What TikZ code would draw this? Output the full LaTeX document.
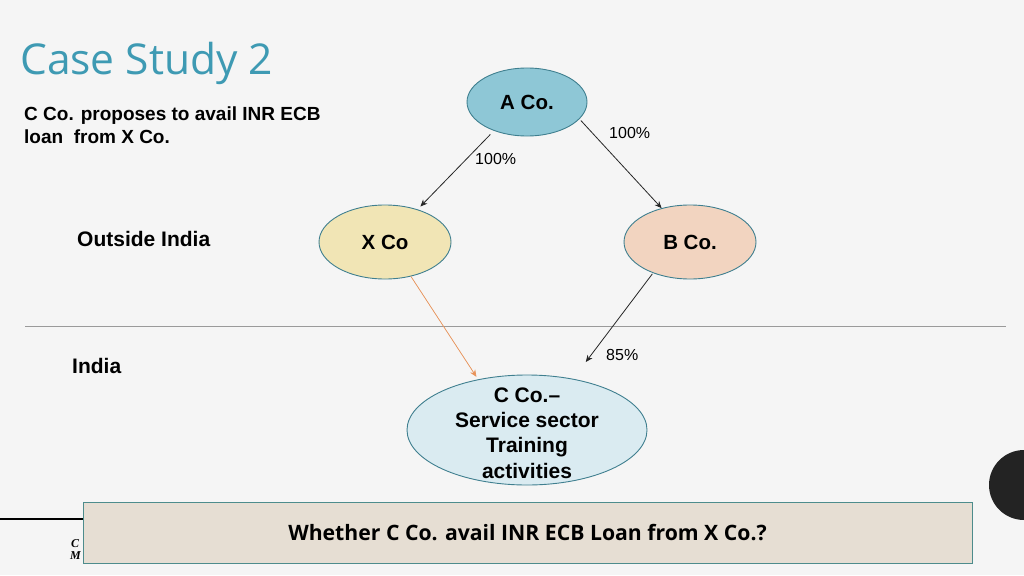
\documentclass[tikz,border=0pt]{standalone}
\usepackage{fontspec}
\setmainfont{Liberation Sans}
\newfontfamily\osans{Open Sans}
\newfontfamily\lserif{Liberation Serif}
\usetikzlibrary{shapes.geometric,arrows.meta}
\definecolor{bgc}{HTML}{F5F5F5}
\definecolor{titlec}{HTML}{3E9AB3}
\definecolor{edgec}{HTML}{3F7F8F}
\definecolor{afill}{HTML}{8EC7D6}
\definecolor{xfill}{HTML}{F1E5B5}
\definecolor{bfill}{HTML}{F2D4C0}
\definecolor{cfill}{HTML}{DAEBF1}
\definecolor{boxfill}{HTML}{E6DED3}
\definecolor{boxedge}{HTML}{4D8C8C}
\definecolor{orangec}{HTML}{E8935A}
\definecolor{linec}{HTML}{9A9A9A}
\definecolor{darkc}{HTML}{232323}
\tikzset{
  co/.style={ellipse, draw=edgec, line width=0.9pt, inner sep=0pt, font=\fontsize{20.5}{24}\selectfont\bfseries},
  own/.style={-{Stealth[length=7pt,width=6pt]}, line width=0.8pt, draw=black!85},
  pct/.style={font=\fontsize{16}{18}\selectfont, inner sep=0pt},
  lbl/.style={font=\fontsize{21}{24}\selectfont\bfseries, inner sep=0pt},
}
\begin{document}
\begin{tikzpicture}[x=1pt,y=-1pt]
\fill[bgc] (0,0) rectangle (1024,575);
\useasboundingbox (0,0) rectangle (1024,575);
% title
\node[anchor=base west, inner sep=0pt, text=titlec, font=\osans\fontsize{42.5}{48}\selectfont] (title) at (20,75) {Case Study 2};
\node[anchor=base west, inner sep=0pt, align=left, font=\fontsize{19}{23}\selectfont\bfseries] (intro) at (24,143) {C Co. proposes to avail INR ECB\\loan\ \ from X Co.};
% separator
\coordinate (sl) at (25,326);
\coordinate (sr) at (1006,326);
\draw[linec, line width=0.8pt] (sl) -- (sr);
\node[lbl, anchor=base west] (out) at (77,246) {Outside India};
\node[lbl, anchor=base west] (ind) at (72,373) {India};
% companies
\node[co, fill=afill, minimum width=120pt, minimum height=68pt] (A) at (527,102) {A Co.};
\node[co, fill=xfill, minimum width=132pt, minimum height=74pt] (X) at (385,242) {X Co};
\node[co, fill=bfill, minimum width=132pt, minimum height=74pt] (B) at (690,242) {B Co.};
\node[co, fill=cfill, minimum width=240pt, minimum height=110pt] (C) at (527,430) {};
\node[align=center, inner sep=0pt, anchor=base, font=\fontsize{21}{25.3}\selectfont\bfseries] (Ct) at (527,478) {C Co.–\\Service sector\\Training\\activities};
% arrows
\draw[own, shorten <=5pt, shorten >=4pt] (A.221) -- (X.45);
\draw[own, shorten <=2pt] (A.-18) -- (B.130);
\draw[own, shorten <=1pt, shorten >=21pt] (B.220) -- (C.48);
\draw[-{Stealth[length=7pt,width=6pt]}, line width=0.7pt, draw=orangec, fill=orangec, shorten >=3pt] (X.-53) -- (C.134);
\node[pct, anchor=west] (p1) at (475,159) {100\%};
\node[pct, anchor=west] (p2) at (609,133) {100\%};
\node[pct, anchor=west] (p3) at (606,355) {85\%};
% bottom-left decoration
\coordinate (bl0) at (0,519);
\coordinate (bl1) at (84,519);
\draw[black, line width=1.5pt] (bl0) -- (bl1);
\node[anchor=base west, inner sep=0pt, font=\lserif\bfseries\itshape\fontsize{12}{12}\selectfont] (cc) at (71,547) {C};
\node[anchor=base west, inner sep=0pt, font=\lserif\bfseries\itshape\fontsize{12}{12}\selectfont] (mm) at (70,559) {M};
% right dark circle
\fill[darkc] (1024,485) circle (35);
% question box
\node[draw=boxedge, fill=boxfill, line width=1pt, minimum width=889pt, minimum height=61pt, inner sep=0pt, font=\osans\bfseries\fontsize{21.2}{24}\selectfont] (Q) at (527.5,532.5) {Whether C Co. avail INR ECB Loan from X Co.?};
\end{tikzpicture}
\end{document}
